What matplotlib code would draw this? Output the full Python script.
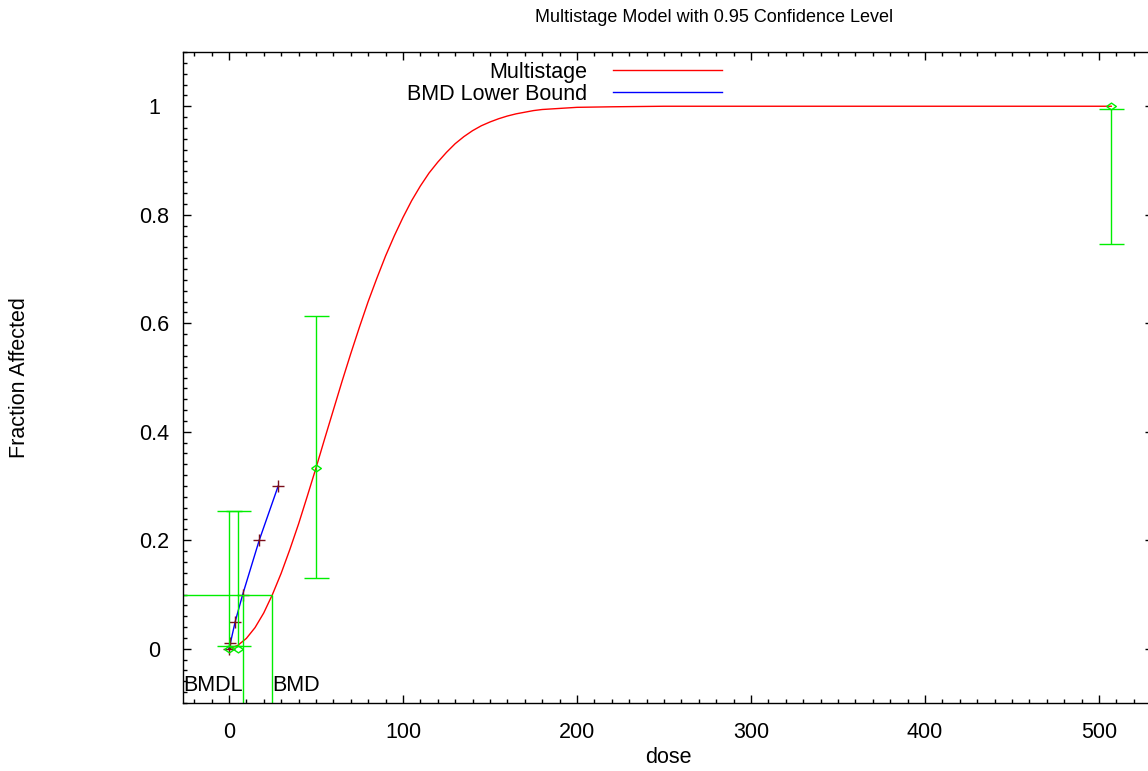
import matplotlib
matplotlib.use("Agg")
import matplotlib.pyplot as plt
from matplotlib.ticker import MultipleLocator

plt.rcParams['font.family'] = ['Liberation Sans', 'DejaVu Sans']

# observed data with confidence bars
dose = [0, 5, 50, 507]
frac = [0.0, 0.0, 0.333, 1.0]
lower = [0.005, 0.005, 0.13, 0.747]
upper = [0.253, 0.253, 0.613, 0.995]

# fitted multistage curve
curve_dose = [0, 5, 10, 15, 20, 25, 30, 35, 40, 45, 50, 55, 60, 65, 70, 75, 80, 85, 90, 95,
              100, 105, 110, 115, 120, 125, 130, 135, 140, 145, 150, 155, 160, 165, 170,
              175, 180, 185, 190, 200, 220, 250, 300, 400, 507]
curve_frac = [0.0, 0.006, 0.019, 0.039, 0.066, 0.100, 0.139, 0.183, 0.230, 0.281, 0.333, 0.387,
              0.440, 0.493, 0.544, 0.593, 0.640, 0.683, 0.724, 0.761, 0.795, 0.826, 0.853,
              0.877, 0.897, 0.915, 0.931, 0.944, 0.955, 0.964, 0.971, 0.977, 0.982, 0.986,
              0.989, 0.992, 0.994, 0.995, 0.996, 0.998, 0.999, 1.0, 1.0, 1.0, 1.0]

# BMD lower bound line
bmdl_dose = [0, 0.8, 3.6, 7.9, 17.4, 28.3]
bmdl_frac = [0.0, 0.01, 0.05, 0.1, 0.2, 0.3]

bmr = 0.1
bmd = 24.8
bmdl = 7.9

fs = 15.5
W, H = 1148, 771
fig = plt.figure(figsize=(W / 100, H / 100), dpi=100)
ax = fig.add_axes([183 / W, 1 - 703 / H, (1153 - 183) / W, (703 - 52) / H])

red, = ax.plot(curve_dose, curve_frac, color='red', lw=1.0, label='Multistage')
blue, = ax.plot(bmdl_dose, bmdl_frac, color='blue', lw=1.0, label='BMD Lower Bound')
ax.plot(bmdl_dose, bmdl_frac, ls='none', marker='+', ms=8, mew=1.0, color='#7a0f1a')

green = '#00ee00'
ax.vlines(dose, lower, upper, color=green, lw=1.0)
ax.plot(dose, lower, ls='none', marker='_', ms=18, mew=1.0, color=green)
ax.plot(dose, upper, ls='none', marker='_', ms=18, mew=1.0, color=green)
diamond = [(-1, 0), (0, 0.7), (1, 0), (0, -0.7), (-1, 0)]
ax.plot(dose, frac, ls='none', marker=diamond, ms=7, mew=1.0, mfc='none', color=green)

# BMD / BMDL markers
ax.hlines(bmr, -26.4, bmd, color=green, lw=1.0)
ax.vlines([bmdl, bmd], -0.1, bmr, color=green, lw=1.0)
ax.text(bmdl, -0.068, 'BMDL', ha='right', va='center', fontsize=fs)
ax.text(bmd, -0.068, 'BMD', ha='left', va='center', fontsize=fs)

ax.set_xlim(-26.4, 531)
ax.set_ylim(-0.1, 1.1)
ax.xaxis.set_major_locator(MultipleLocator(100))
ax.xaxis.set_minor_locator(MultipleLocator(10))
ax.yaxis.set_minor_locator(MultipleLocator(0.02))
ax.set_yticks([0, 0.2, 0.4, 0.6, 0.8, 1.0])
ax.set_yticklabels(['0', '0.2', '0.4', '0.6', '0.8', '1'])
ax.tick_params(which='both', direction='in', top=True, right=True, labelsize=fs, width=1.0)
ax.tick_params(which='major', length=6)
ax.tick_params(which='minor', length=3)
ax.tick_params(axis='y', pad=21)
ax.tick_params(axis='x', pad=14)
for lbl in ax.get_yticklabels():
    lbl.set_ha('center')
for sp in ax.spines.values():
    sp.set_linewidth(1.0)

ax.set_xlabel('dose', fontsize=fs, labelpad=2.5)
fig.text(20 / W, 1 - 378 / H, 'Fraction Affected', rotation=90, ha='center', va='center', fontsize=fs)
fig.text(714 / W, 1 - 18 / H, 'Multistage Model with 0.95 Confidence Level', ha='center', va='center', fontsize=13)

ax.legend(handles=[red, blue], loc='upper right', bbox_to_anchor=(722 / W, 1 - 62 / H),
          bbox_transform=fig.transFigure, frameon=False, markerfirst=False, fontsize=fs,
          handlelength=5.07, handletextpad=1.2, borderpad=0, borderaxespad=0, labelspacing=0.04)

fig.savefig('out.png', dpi=100)
